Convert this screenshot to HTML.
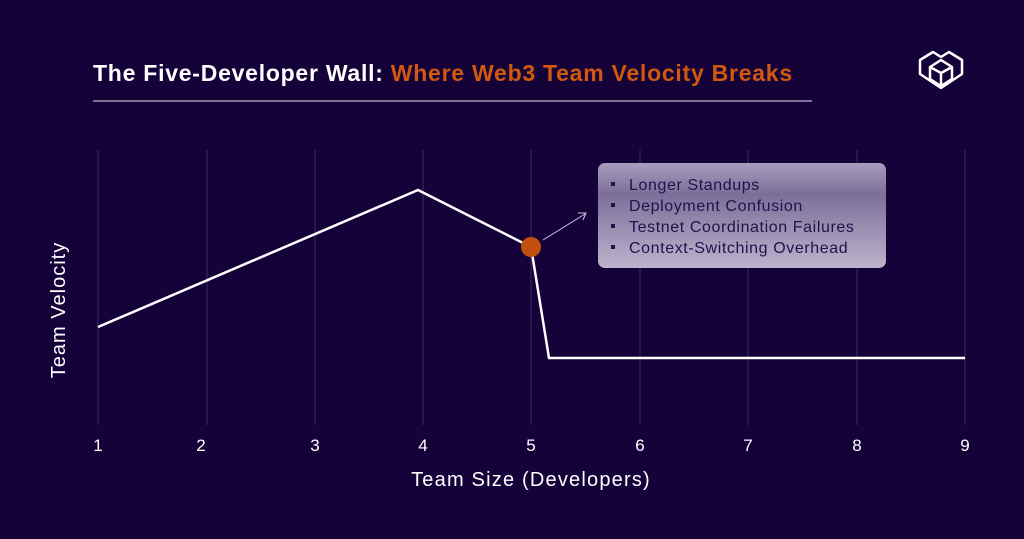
<!DOCTYPE html>
<html><head><style>
body{margin:0;background:#150239;}
svg{display:block}
text{font-family:"Liberation Sans",sans-serif;}
</style></head><body>
<svg width="1024" height="539" viewBox="0 0 1024 539">
<defs>
<linearGradient id="bx" x1="0" y1="0" x2="0" y2="1">
<stop offset="0" stop-color="#a89ebd"/><stop offset="0.3" stop-color="#7c6e9a"/><stop offset="1" stop-color="#bdb4cd"/>
</linearGradient>
</defs>
<rect width="1024" height="539" fill="#150239"/>
<text x="93" y="81" font-size="23" font-weight="bold" letter-spacing="0.75" fill="#ffffff">The Five-Developer Wall: <tspan fill="#d0590f">Where Web3 Team Velocity Breaks</tspan></text>
<line x1="93" y1="101" x2="812" y2="101" stroke="#bdb6cc" stroke-width="1.2"/>
<g fill="none" stroke="#fff" stroke-width="2.5" stroke-linejoin="round">
<path d="M933 52 L920 60 L920 74 L941 88 L962 74 L962 60 L949 52 L941 57 Z"/>
<path d="M941 60 L930 67 L930 79 L941 86 L952 79 L952 67 Z"/>
<path d="M930 67 L941 73 L952 67 M941 73 L941 86"/>
</g>
<g stroke="#3c2b63" stroke-width="1">
<line x1="98" y1="150" x2="98" y2="425"/><line x1="207" y1="150" x2="207" y2="425"/>
<line x1="315" y1="150" x2="315" y2="425"/><line x1="423" y1="150" x2="423" y2="425"/>
<line x1="531" y1="150" x2="531" y2="425"/><line x1="640" y1="150" x2="640" y2="425"/>
<line x1="748" y1="150" x2="748" y2="425"/><line x1="857" y1="150" x2="857" y2="425"/>
<line x1="965" y1="150" x2="965" y2="425"/>
</g>
<polyline points="98,327 418,190 531,247 549,358 965,358" fill="none" stroke="#fff" stroke-width="2.5"/>
<circle cx="531" cy="247" r="10" fill="#c2500c"/>
<line x1="543" y1="240" x2="585" y2="214" stroke="#cfc8dc" stroke-width="1"/>
<path d="M578 213 L586 213 L583 220" fill="none" stroke="#cfc8dc" stroke-width="1"/>
<rect x="598" y="163" width="288" height="105" rx="7" fill="url(#bx)"/>
<g fill="#22114a" font-size="16" letter-spacing="0.6">
<rect x="611" y="182" width="4" height="4"/><text x="629" y="190">Longer Standups</text>
<rect x="611" y="203" width="4" height="4"/><text x="629" y="211">Deployment Confusion</text>
<rect x="611" y="224" width="4" height="4"/><text x="629" y="232">Testnet Coordination Failures</text>
<rect x="611" y="245" width="4" height="4"/><text x="629" y="253">Context-Switching Overhead</text>
</g>
<g fill="#fff" font-size="17" text-anchor="middle">
<text x="98" y="451">1</text><text x="201" y="451">2</text><text x="315" y="451">3</text>
<text x="423" y="451">4</text><text x="531" y="451">5</text><text x="640" y="451">6</text>
<text x="748" y="451">7</text><text x="857" y="451">8</text><text x="965" y="451">9</text>
<text x="531" y="486" font-size="20" letter-spacing="1.2">Team Size (Developers)</text>
<text transform="translate(65,310) rotate(-90)" font-size="20" letter-spacing="1">Team Velocity</text>
</g>
</svg>
</body></html>
